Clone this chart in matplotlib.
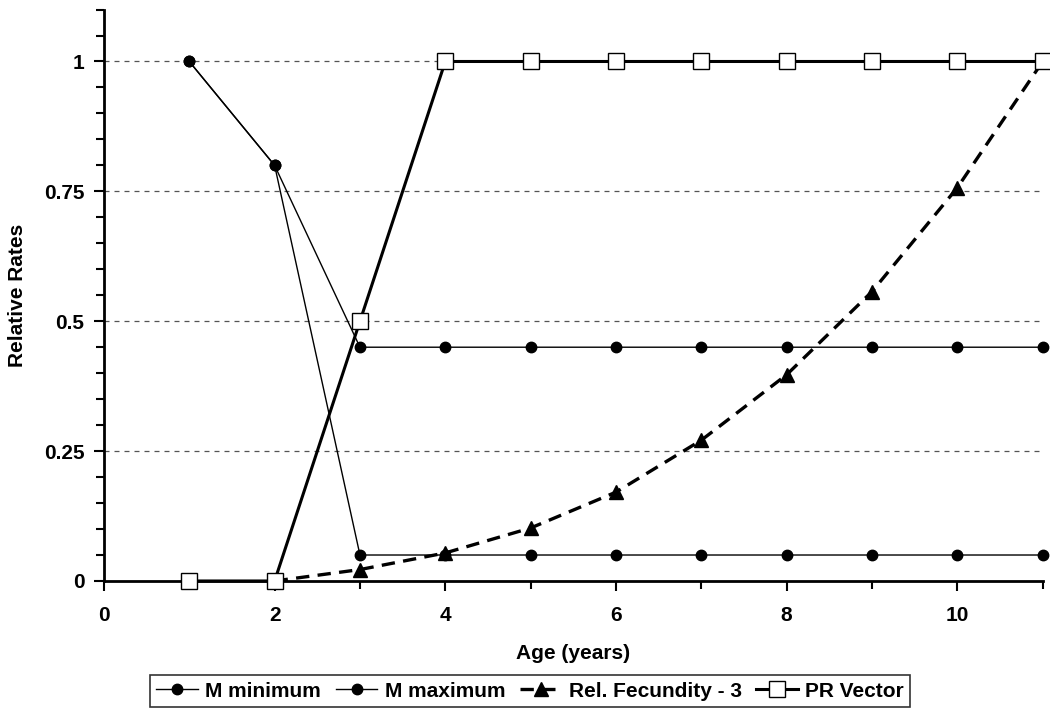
import matplotlib
matplotlib.use("Agg")
import matplotlib.pyplot as plt
from matplotlib.ticker import MultipleLocator

plt.rcParams['font.family'] = ['Liberation Sans', 'DejaVu Sans']
plt.rcParams['font.weight'] = 'bold'

ages_m = [1, 2, 3, 4, 5, 6, 7, 8, 9, 10, 11]
m_min = [1.0, 0.8, 0.05, 0.05, 0.05, 0.05, 0.05, 0.05, 0.05, 0.05, 0.05]
m_max = [1.0, 0.8, 0.45, 0.45, 0.45, 0.45, 0.45, 0.45, 0.45, 0.45, 0.45]
ages_fec = [2, 3, 4, 5, 6, 7, 8, 9, 10, 11]
fecundity = [0.0, 0.022, 0.054, 0.102, 0.171, 0.271, 0.397, 0.557, 0.757, 1.0]
ages_pr = [1, 2, 3, 4, 5, 6, 7, 8, 9, 10, 11]
pr_vector = [0, 0, 0.5, 1, 1, 1, 1, 1, 1, 1, 1]

labels = ["M minimum", "M maximum", "Rel. Fecundity - 3", "PR Vector"]

FS = 15

fig = plt.figure(figsize=(10.5, 7.17), dpi=100)
ax = fig.add_axes([0.099, 0.1897, 0.894, 0.797])

for y in [0.25, 0.5, 0.75, 1.0]:
    ax.axhline(y, color='#555555', lw=0.9, ls=(0, (4, 4)), zorder=1)

ax.plot(ages_m, m_min, color='black', lw=1.0, marker='o', ms=7.5, mfc='black', mec='black',
        label=labels[0], zorder=3, clip_on=False)
ax.plot(ages_m, m_max, color='black', lw=1.0, marker='o', ms=7.5, mfc='black', mec='black',
        label=labels[1], zorder=3, clip_on=False)
ax.plot(ages_fec, fecundity, color='black', lw=2.4, ls=(0, (4, 2.5)), marker='^', ms=9.5,
        mfc='black', mec='black', label=labels[2], zorder=4, clip_on=False)
ax.plot(ages_pr, pr_vector, color='black', lw=2.2, marker='s', ms=12, mfc='white', mec='black',
        mew=1.0, label=labels[3], zorder=5, clip_on=False)

ax.set_xlim(0, 11)
ax.set_ylim(0, 1.1)
ax.set_xticks([0, 2, 4, 6, 8, 10])
ax.xaxis.set_minor_locator(MultipleLocator(1))
ax.set_yticks([0, 0.25, 0.5, 0.75, 1.0])
ax.set_yticklabels(['0', '0.25', '0.5', '0.75', '1'])
ax.yaxis.set_minor_locator(MultipleLocator(0.05))

for s in ['top', 'right']:
    ax.spines[s].set_visible(False)
for s in ['left', 'bottom']:
    ax.spines[s].set_linewidth(2.0)
    ax.spines[s].set_color('black')

ax.tick_params(axis='both', which='major', direction='out', length=7, width=1.5, labelsize=FS)
ax.tick_params(axis='y', which='major', pad=7)
ax.tick_params(axis='x', which='major', pad=11)
ax.tick_params(axis='both', which='minor', direction='out', length=6, width=1.5)
for lab in ax.get_xticklabels() + ax.get_yticklabels():
    lab.set_fontweight('bold')

ax.set_xlabel('Age (years)', fontsize=FS, fontweight='bold', labelpad=14)
ax.set_ylabel('Relative Rates', fontsize=FS, fontweight='bold', labelpad=12)

leg = fig.legend(loc='center', bbox_to_anchor=(0.505, 0.036), ncol=4, frameon=True, fancybox=False,
                 edgecolor='black', handlelength=2.0, columnspacing=0.7,
                 handletextpad=0.35, borderpad=0.3, borderaxespad=0.2,
                 prop={'weight': 'bold', 'size': FS})
leg.get_frame().set_linewidth(1.2)

fig.savefig('out.png', dpi=100, facecolor='white')
